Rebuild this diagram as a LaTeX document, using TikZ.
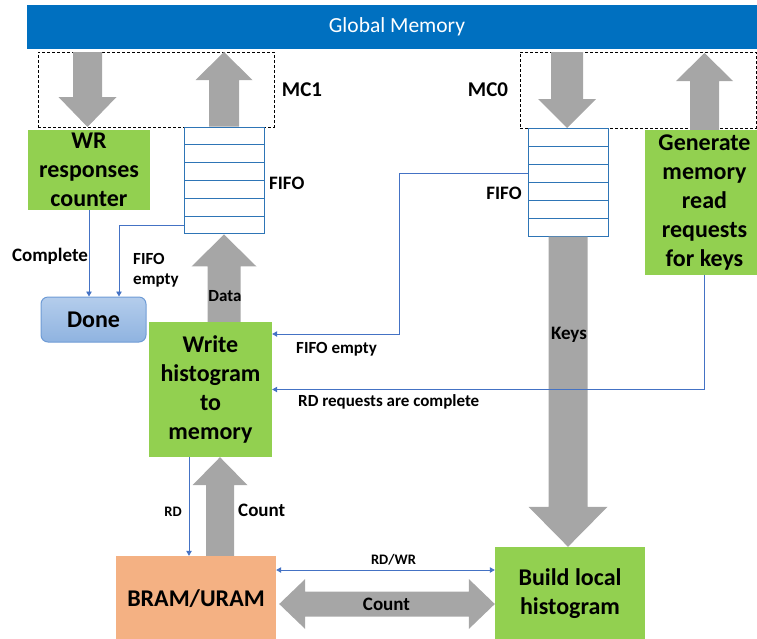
\documentclass[tikz,border=0pt]{standalone}
\usepackage{fontspec}
\setmainfont{Carlito}
\usetikzlibrary{arrows.meta,calc}

\definecolor{gmblue}{HTML}{0070C0}
\definecolor{boxgreen}{HTML}{92D050}
\definecolor{bramorange}{HTML}{F4B183}
\definecolor{blockgray}{HTML}{A6A6A6}
\definecolor{lineblue}{HTML}{4472C4}
\definecolor{fifoblue}{HTML}{2E75B6}
\definecolor{donetop}{HTML}{B4CDEC}
\definecolor{donebot}{HTML}{8FB3E0}
\definecolor{doneedge}{HTML}{6E9BD5}

% vertical block arrow: #1 tail, #2 tip, #3 half shaft width, #4 half head width, #5 head length
\newcommand\blkarrow[5]{%
  \fill[blockgray] let \p1=#1, \p2=#2, \n1={sign(\y2-(\y1))} in
    ({\x1-#3},\y1) -- ({\x1-#3},{\y2-(\n1)*#5}) -- ({\x1-#4},{\y2-(\n1)*#5})
    -- (\x1,\y2) -- ({\x1+#4},{\y2-(\n1)*#5}) -- ({\x1+#3},{\y2-(\n1)*#5})
    -- ({\x1+#3},\y1) -- cycle;}

\begin{document}
\begin{tikzpicture}[x=1pt,y=-1pt,
  boxfont/.style={font=\bfseries\fontsize{24}{29}\selectfont},
  greenbox/.style={boxfont, fill=boxgreen, inner sep=0pt, align=center},
  fiforow/.style={draw=fifoblue, line width=1pt, fill=white, minimum width=80pt, inner sep=0pt},
  mcbox/.style={draw=black, dashed, dash pattern=on 3pt off 2pt, line width=0.8pt, inner sep=0pt},
  lab/.style={font=\bfseries\fontsize{17}{20}\selectfont, inner sep=0pt, align=left},
  biglab/.style={font=\bfseries\fontsize{19}{23}\selectfont, inner sep=0pt},
  mclab/.style={font=\bfseries\fontsize{21}{25}\selectfont, inner sep=0pt},
  smalllab/.style={font=\bfseries\fontsize{14.5}{18}\selectfont, inner sep=0pt},
  conn/.style={draw=lineblue, line width=0.8pt, -{Triangle[length=5pt,width=5.5pt]}},
  conn2/.style={draw=lineblue, line width=0.8pt, {Triangle[length=5pt,width=5.5pt]}-{Triangle[length=5pt,width=5.5pt]}}
]
\useasboundingbox (0,0) rectangle (757,638);

% memory bar and memory-controller regions
\node[fill=gmblue, minimum width=740pt, minimum height=44pt, inner sep=0pt,
      text=white, font=\fontsize{21.5}{26}\selectfont] (gm) at (397,27) {Global Memory};
\node[mcbox, minimum width=236pt, minimum height=75pt] (mc1) at (156,89.5) {};
\node[mcbox, minimum width=236pt, minimum height=76pt] (mc0) at (638,90) {};
\node[mclab] (lmc1) at (302,90) {MC1};
\node[mclab] (lmc0) at (488,90) {MC0};

% processing blocks
\node[greenbox, minimum width=122pt, minimum height=80pt] (wr) at (89,170) {WR\\responses\\counter};
\node[greenbox, minimum width=123pt, minimum height=135pt] (wh) at (210.5,389.5) {Write\\histogram\\to\\memory};
\node[greenbox, minimum width=119pt, minimum height=145pt] (gen) at (704.5,202.5) {Generate\\memory\\read\\requests\\for keys};
\node[greenbox, minimum width=150pt, minimum height=93pt] (build) at (570,593.5) {Build local\\histogram};
\node[boxfont, fill=bramorange, minimum width=160pt, minimum height=86pt, inner sep=0pt] (bram) at (196,599) {BRAM/URAM};
\node[boxfont, draw=doneedge, line width=1pt, top color=donetop, bottom color=donebot,
      rounded corners=7pt, minimum width=105pt, minimum height=45pt, inner sep=0pt] (done) at (93.5,319.5) {Done};

% FIFOs
\foreach \i in {1,...,6} {
  \node[fiforow, minimum height=17.83pt] (fa\i) at (224,{127+17.83*(\i-0.5)}) {};
  \node[fiforow, minimum height=18pt] (fb\i) at (568,{128+18*(\i-0.5)}) {};
}
\node[biglab, anchor=west] (lfifo1) at (269,183) {FIFO};
\node[biglab] (lfifo0) at (504,193) {FIFO};

% wide data-path arrows
\blkarrow{(87.5,52)}{(87.5,127)}{14.5pt}{29pt}{30pt}
\blkarrow{(fa1.north)}{(224,52)}{15pt}{28.5pt}{28pt}
\blkarrow{(567,52)}{(567,128)}{16pt}{29pt}{29pt}
\blkarrow{(gen.north)}{(705,53)}{14.5pt}{28.5pt}{28pt}
\blkarrow{(wh.north -| fa6.south)}{(fa6.south)}{16.5pt}{32.5pt}{32pt}
\blkarrow{(fb6.south)}{(fb6.south |- build.north)}{19.5pt}{39.5pt}{40pt}
\blkarrow{(bram.north -| 220,0)}{(wh.south -| 220,0)}{14pt}{27.5pt}{28pt}
\fill[blockgray] let \p1=(bram.east), \p2=(build.west) in
  ({\x1+3pt},-604pt) -- ({\x1+29pt},-579pt) -- ({\x1+29pt},-591.5pt) -- ({\x2-26pt},-591.5pt)
  -- ({\x2-26pt},-579pt) -- (\x2,-604pt) -- ({\x2-26pt},-629pt) -- ({\x2-26pt},-616.5pt)
  -- ({\x1+29pt},-616.5pt) -- ({\x1+29pt},-629pt) -- cycle;

% control signals
\coordinate (bendA) at (399,334);
\draw[conn] (wr.south) -- (wr.south |- done.north);
\draw[conn] (fa6.west) -| ([xshift=25.5pt]done.north);
\draw[conn] (fb3.west) -| (bendA) -- (wh.east |- bendA);
\draw[conn] (gen.south) |- (wh.east);
\draw[conn] (wh.south -| 189,0) -- (bram.north -| 189,0);
\draw[conn2] (bram.east |- 0,570) -- (build.west |- 0,570);

% labels
\node[biglab] (lcomplete) at (50,256) {Complete};
\node[lab, anchor=west] (lfe1) at (133,270) {FIFO\\empty};
\node[lab] (ldata) at (225,296) {Data};
\node[lab, anchor=west] (lfe2) at (296,349) {FIFO empty};
\node[lab, anchor=west] (lrdreq) at (298,402) {RD requests are complete};
\node[biglab] (lkeys) at (569,335) {Keys};
\node[smalllab] (lrd) at (173,512) {RD};
\node[biglab, anchor=west] (lcount1) at (238,510) {Count};
\node[smalllab] (lrdwr) at (393.5,560) {RD/WR};
\node[biglab] (lcount2) at (386.5,604) {Count};
\end{tikzpicture}
\end{document}
